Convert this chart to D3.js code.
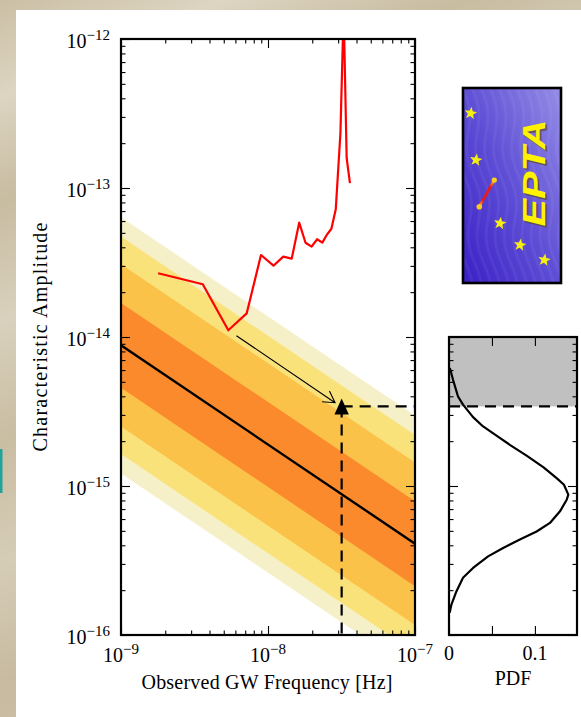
<!DOCTYPE html>
<html>
<head>
<meta charset="utf-8">
<script src="https://cdn.jsdelivr.net/npm/d3@7"></script>
<style>
  html, body { margin: 0; padding: 0; background: #fff; }
  svg { display: block; }
  text { font-family: "Liberation Serif", "Times New Roman", serif; fill: #000; }
</style>
</head>
<body>
<svg id="chart" width="581" height="717"></svg>
<script>
// ---------------- data ----------------
// PTA sensitivity curve (red)
const sensFreq = [1.79e-9, 3.6e-9, 5.37e-9, 7.16e-9, 8.96e-9, 1.09e-8, 1.27e-8, 1.45e-8,
                  1.63e-8, 1.80e-8, 1.98e-8, 2.16e-8, 2.34e-8, 2.51e-8, 2.70e-8, 2.89e-8,
                  3.11e-8, 3.27e-8, 3.43e-8, 3.61e-8];
const sensAmp  = [2.68e-14, 2.26e-14, 1.11e-14, 1.44e-14, 3.55e-14, 3.01e-14, 3.46e-14, 3.36e-14,
                  5.85e-14, 4.29e-14, 4.04e-14, 4.53e-14, 4.30e-14, 4.84e-14, 5.33e-14, 7.19e-14,
                  2.34e-13, 1.57e-12, 1.58e-13, 1.08e-13];

// Predicted background: median power law at the band end points and band half-widths (dex)
const bandFreq   = [1e-9, 1e-7];
const bandCenter = [8.79e-15, 4.1e-16];
const bandHalfWidth = [0.86, 0.73, 0.545, 0.285];
const bandColors = ["#f6f0c9", "#fae27b", "#fbc24a", "#fb8a2d"];

// Upper limit at f = 1/yr
const limitFreq = 3.17e-8;
const limitAmp  = 3.42e-15;

// Arrow from the sensitivity minimum to the limit
const arrowFreq = [6.1e-9, 2.86e-8];
const arrowAmp  = [1.02e-14, 3.62e-15];

// Posterior of the amplitude at 1/yr
const pdfAmp = [6.19e-15, 5.16e-15, 3.99e-15, 3.52e-15, 2.90e-15, 2.51e-15, 2.18e-15, 1.89e-15,
                1.60e-15, 1.34e-15, 1.13e-15, 1.02e-15, 8.75e-16, 8.09e-16, 6.76e-16, 5.65e-16,
                4.95e-16, 4.37e-16, 3.84e-16, 3.37e-16, 2.82e-16, 2.42e-16, 1.96e-16, 1.60e-16, 1.41e-16];
const pdfVal = [0.001, 0.0047, 0.0105, 0.0163, 0.028, 0.0397, 0.0553, 0.0708,
                0.0903, 0.1097, 0.1253, 0.1338, 0.1389, 0.1370, 0.1292, 0.1175,
                0.1020, 0.0825, 0.0630, 0.0455, 0.0280, 0.0163, 0.0086, 0.0028, 0.0008];

// Tick labels
const xTickVals = [1e-9, 1e-8, 1e-7];
const xTickExp  = ["\u22129", "\u22128", "\u22127"];
const yTickVals = [1e-16, 1e-15, 1e-14, 1e-13, 1e-12];
const yTickExp  = ["\u221216", "\u221215", "\u221214", "\u221213", "\u221212"];
const pdfTickVals = [0, 0.05, 0.1];
const pdfTickLabels = ["0", "", "0.1"];

// ---------------- setup ----------------
const svg = d3.select("#chart");
const defs = svg.append("defs");

const x = d3.scaleLog().domain([1e-9, 1e-7]).range([121, 415]);
const y = d3.scaleLog().domain([1e-16, 1e-12]).range([635, 39]);
const px = d3.scaleLinear().domain([0, 0.149]).range([449, 577]);
const py = d3.scaleLog().domain([1e-16, 1e-14]).range([635, y(1e-14)]);

// ---------------- page background ----------------
const bg = defs.append("linearGradient").attr("id", "beige")
  .attr("x1", 0).attr("y1", 0).attr("x2", 0.35).attr("y2", 1);
[["0", "#cbbfa4"], ["0.12", "#ddd5c2"], ["0.25", "#c8bca1"], ["0.4", "#d9d1bd"],
 ["0.55", "#c9bda2"], ["0.7", "#d6cdb7"], ["0.85", "#c7baa0"], ["1", "#cfc4ab"]]
  .forEach(([o, c]) => bg.append("stop").attr("offset", o).attr("stop-color", c));
svg.append("rect").attr("width", 581).attr("height", 717).attr("fill", "url(#beige)");
svg.append("rect").attr("x", 0).attr("y", 449).attr("width", 2.5).attr("height", 44).attr("fill", "#22a39a");
svg.append("rect").attr("x", 16).attr("y", 10).attr("width", 565).attr("height", 707).attr("fill", "#fff");

// ---------------- main panel ----------------
defs.append("clipPath").attr("id", "mainClip").append("rect")
  .attr("x", 121).attr("y", 39).attr("width", 294).attr("height", 596);
const main = svg.append("g").attr("clip-path", "url(#mainClip)");

bandHalfWidth.forEach((w, k) => {
  const area = d3.area()
    .x((d, i) => x(bandFreq[i]))
    .y0((d, i) => y(bandCenter[i] * Math.pow(10, -w)))
    .y1((d, i) => y(bandCenter[i] * Math.pow(10, w)));
  main.append("path").attr("d", area(bandFreq)).attr("fill", bandColors[k]);
});

main.append("path")
  .attr("d", d3.line().x((d, i) => x(bandFreq[i])).y((d, i) => y(bandCenter[i]))(bandFreq))
  .attr("fill", "none").attr("stroke", "#000").attr("stroke-width", 2.4);

main.append("path")
  .attr("d", d3.line().x((d, i) => x(sensFreq[i])).y((d, i) => y(sensAmp[i]))(sensFreq))
  .attr("fill", "none").attr("stroke", "#ff0000").attr("stroke-width", 2.2)
  .attr("stroke-linejoin", "round");

// thin arrow with open head
{
  const x0 = x(arrowFreq[0]), y0 = y(arrowAmp[0]);
  const x1 = x(arrowFreq[1]), y1 = y(arrowAmp[1]);
  const ang = Math.atan2(y0 - y1, x0 - x1);
  const L = 13, spread = Math.PI / 6;
  main.append("path")
    .attr("d", `M${x0},${y0}L${x1},${y1}` +
      `M${x1 + L * Math.cos(ang + spread)},${y1 + L * Math.sin(ang + spread)}L${x1},${y1}` +
      `L${x1 + L * Math.cos(ang - spread)},${y1 + L * Math.sin(ang - spread)}`)
    .attr("fill", "none").attr("stroke", "#000").attr("stroke-width", 1.1);
}

// dashed guides through the limit
const lx = x(limitFreq), ly = y(limitAmp);
main.append("line").attr("x1", lx).attr("x2", 415).attr("y1", ly).attr("y2", ly)
  .attr("stroke", "#000").attr("stroke-width", 2.2).attr("stroke-dasharray", "11,7");
main.append("line").attr("x1", lx).attr("x2", lx).attr("y1", ly).attr("y2", 635)
  .attr("stroke", "#000").attr("stroke-width", 2.2).attr("stroke-dasharray", "11,7");
svg.append("path")
  .attr("d", `M${lx},${ly - 8}L${lx + 7.2},${ly + 8}L${lx - 7.2},${ly + 8}Z`)
  .attr("fill", "#000");

// axes ticks (inside)
function minorLog(d0, d1) {
  const out = [];
  for (let e = d0; e < d1; e++) for (let k = 2; k <= 9; k++) out.push(k * Math.pow(10, e));
  return out;
}
function tickAxes(g, xs, ys, xMaj, xMin, yMaj, yMin, left, right, top, bottom) {
  const mk = (axis, tr, vals, size) => g.append("g").attr("transform", tr)
    .call(axis.tickValues(vals).tickSize(size).tickFormat(""))
    .call(s => s.select(".domain").remove())
    .call(s => s.selectAll("line").attr("stroke", "#000").attr("stroke-width", 1.1));
  mk(d3.axisBottom(xs), `translate(0,${bottom})`, xMaj, -9);
  mk(d3.axisBottom(xs), `translate(0,${bottom})`, xMin, -4.5);
  mk(d3.axisTop(xs), `translate(0,${top})`, xMaj, -9);
  mk(d3.axisTop(xs), `translate(0,${top})`, xMin, -4.5);
  mk(d3.axisLeft(ys), `translate(${left},0)`, yMaj, -9);
  mk(d3.axisLeft(ys), `translate(${left},0)`, yMin, -4.5);
  mk(d3.axisRight(ys), `translate(${right},0)`, yMaj, -9);
  mk(d3.axisRight(ys), `translate(${right},0)`, yMin, -4.5);
  g.append("rect").attr("x", left).attr("y", top).attr("width", right - left).attr("height", bottom - top)
    .attr("fill", "none").attr("stroke", "#000").attr("stroke-width", 2.2);
}
tickAxes(svg.append("g"), x, y, xTickVals, minorLog(-9, -7), yTickVals, minorLog(-16, -12),
  121, 415, 39, 635);

// tick labels with exponents
xTickVals.forEach((v, i) => {
  const t = svg.append("text").attr("x", x(v)).attr("y", 662).attr("text-anchor", "middle")
    .attr("font-size", 20);
  t.append("tspan").text("10");
  t.append("tspan").attr("dy", -8).attr("font-size", 15).text(xTickExp[i]);
});
yTickVals.forEach((v, i) => {
  const t = svg.append("text").attr("x", 110).attr("y", y(v) + 9).attr("text-anchor", "end")
    .attr("font-size", 20);
  t.append("tspan").text("10");
  t.append("tspan").attr("dy", -8).attr("font-size", 15).text(yTickExp[i]);
});

svg.append("text").attr("x", 267).attr("y", 689).attr("text-anchor", "middle")
  .attr("font-size", 20).attr("textLength", 251).text("Observed GW Frequency [Hz]");
svg.append("text").attr("transform", "translate(47,337) rotate(-90)").attr("text-anchor", "middle")
  .attr("font-size", 20).attr("textLength", 229).text("Characteristic Amplitude");

// ---------------- PDF panel ----------------
const pTop = py(1e-14);
defs.append("clipPath").attr("id", "pdfClip").append("rect")
  .attr("x", 449).attr("y", pTop).attr("width", 128).attr("height", 635 - pTop);
const pg = svg.append("g").attr("clip-path", "url(#pdfClip)");
pg.append("rect").attr("x", 449).attr("y", pTop).attr("width", 128)
  .attr("height", py(limitAmp) - pTop).attr("fill", "#c0c0c0");
pg.append("path")
  .attr("d", d3.line().x((d, i) => px(pdfVal[i])).y((d, i) => py(pdfAmp[i])).curve(d3.curveLinear)(pdfAmp))
  .attr("fill", "none").attr("stroke", "#000").attr("stroke-width", 2.2).attr("stroke-linejoin", "round");
pg.append("line").attr("x1", 449).attr("x2", 577).attr("y1", py(limitAmp)).attr("y2", py(limitAmp))
  .attr("stroke", "#000").attr("stroke-width", 2.2).attr("stroke-dasharray", "11,7");

tickAxes(svg.append("g"), px, py, pdfTickVals, [], [1e-16, 1e-15, 1e-14], minorLog(-16, -14),
  449, 577, pTop, 635);

pdfTickVals.forEach((v, i) => {
  if (!pdfTickLabels[i]) return;
  svg.append("text").attr("x", px(v)).attr("y", 660).attr("text-anchor", "middle")
    .attr("font-size", 20).text(pdfTickLabels[i]);
});
svg.append("text").attr("x", 513).attr("y", 685).attr("text-anchor", "middle")
  .attr("font-size", 20).text("PDF");

// ---------------- EPTA logo ----------------
const logo = { x: 463, y: 88, w: 98, h: 195 };
const lg = defs.append("linearGradient").attr("id", "logoFill")
  .attr("x1", 0).attr("y1", 1).attr("x2", 1).attr("y2", 0);
lg.append("stop").attr("offset", "0").attr("stop-color", "#3a1fc6");
lg.append("stop").attr("offset", "0.5").attr("stop-color", "#5f4fd6");
lg.append("stop").attr("offset", "1").attr("stop-color", "#958de6");
defs.append("clipPath").attr("id", "logoClip").append("rect")
  .attr("x", logo.x).attr("y", logo.y).attr("width", logo.w).attr("height", logo.h);
const lgG = svg.append("g");
lgG.append("rect").attr("x", logo.x).attr("y", logo.y).attr("width", logo.w).attr("height", logo.h)
  .attr("fill", "url(#logoFill)");
const waves = lgG.append("g").attr("clip-path", "url(#logoClip)");
for (let k = -2; k < 14; k++) {
  const pts = d3.range(0, logo.h + 10, 4).map(t =>
    [logo.x + k * 9 + 4 * Math.sin(t / 14) + t * 0.12, logo.y + t]);
  waves.append("path").attr("d", d3.line().curve(d3.curveBasis)(pts))
    .attr("fill", "none").attr("stroke", "#ffffff").attr("stroke-opacity", 0.05).attr("stroke-width", 3);
}
function starPath(cx, cy, R, r) {
  const p = [];
  for (let i = 0; i < 10; i++) {
    const a = -Math.PI / 2 + i * Math.PI / 5 + 0.15;
    const rr = i % 2 ? r : R;
    p.push([cx + rr * Math.cos(a), cy + rr * Math.sin(a)]);
  }
  return "M" + p.join("L") + "Z";
}
[[470.7, 113.3], [476, 160], [500, 223.3], [520, 245], [544.3, 260]].forEach(([cx, cy]) =>
  lgG.append("path").attr("d", starPath(cx, cy, 6.6, 2.8)).attr("fill", "#f6ee10"));
const cg = defs.append("linearGradient").attr("id", "comet")
  .attr("gradientUnits", "userSpaceOnUse").attr("x1", 479).attr("y1", 207).attr("x2", 494).attr("y2", 180);
cg.append("stop").attr("offset", "0").attr("stop-color", "#ffd21a");
cg.append("stop").attr("offset", "0.25").attr("stop-color", "#f21810");
cg.append("stop").attr("offset", "0.75").attr("stop-color", "#f21810");
cg.append("stop").attr("offset", "1").attr("stop-color", "#ffd21a");
lgG.append("line").attr("x1", 479.3).attr("y1", 206.7).attr("x2", 494.3).attr("y2", 180)
  .attr("stroke", "url(#comet)").attr("stroke-width", 2.6).attr("stroke-linecap", "round");
lgG.append("circle").attr("cx", 479.3).attr("cy", 206.7).attr("r", 2.8).attr("fill", "#ffc61a");
lgG.append("circle").attr("cx", 494.3).attr("cy", 180).attr("r", 2.6).attr("fill", "#ffd21a");
lgG.append("text").attr("transform", "translate(536,175) rotate(-90)")
  .attr("x", 0).attr("y", 11).attr("text-anchor", "middle")
  .style("font-family", "'Liberation Sans', Arial, sans-serif").style("font-weight", "bold").style("font-style", "italic")
  .attr("font-size", 32).attr("textLength", 107).attr("lengthAdjust", "spacingAndGlyphs")
  .style("fill", "#5a4a30").style("opacity", 0.7).text("EPTA");
lgG.append("text").attr("transform", "translate(534,173) rotate(-90)")
  .attr("x", 0).attr("y", 11).attr("text-anchor", "middle")
  .style("font-family", "'Liberation Sans', Arial, sans-serif").style("font-weight", "bold").style("font-style", "italic")
  .attr("font-size", 32).attr("textLength", 107).attr("lengthAdjust", "spacingAndGlyphs")
  .style("fill", "#fff200").text("EPTA");
lgG.append("rect").attr("x", logo.x).attr("y", logo.y).attr("width", logo.w).attr("height", logo.h)
  .attr("fill", "none").attr("stroke", "#000").attr("stroke-width", 2.6);
</script>
</body>
</html>
